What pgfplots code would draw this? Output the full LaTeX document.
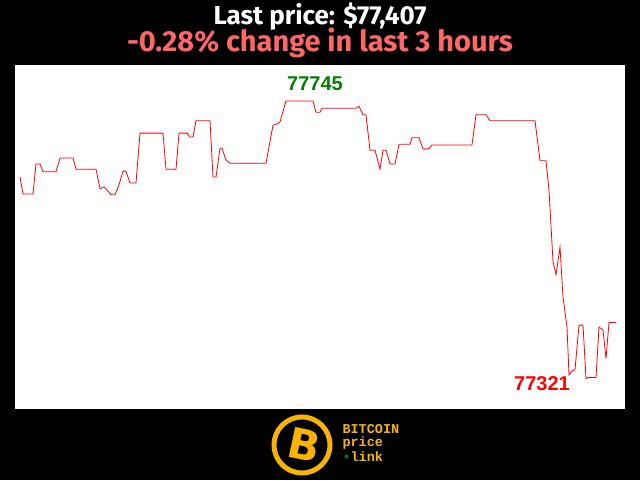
\documentclass[border=0pt]{standalone}
\usepackage{pgfplots}
\pgfplotsset{compat=1.18}
\usepackage{fontspec}
\setmainfont{Fira Sans}
\newfontfamily\arialfont{Liberation Sans}
\newfontfamily\monofont{Liberation Mono}
\newfontfamily\dejavu{DejaVu Sans}
\definecolor{titlered}{RGB}{255,102,102}
\definecolor{gold}{RGB}{247,181,0}
\definecolor{labgreen}{RGB}{0,128,0}
\begin{document}
\begin{tikzpicture}[x=1pt,y=1pt]
\fill[black] (0,0) rectangle (640,480);
\begin{axis}[
  at={(15pt,71pt)}, anchor=south west,
  width=610pt, height=344pt, scale only axis,
  xmin=15, xmax=625, ymin=77275, ymax=77800,
  axis background/.style={fill=white},
  axis line style={draw=none},
  ticks=none,
  clip=false,
]
\addplot[red, line width=0.8pt, mark=none] coordinates {
(20,77629) (23,77603) (33,77603) (36,77649) (40,77649) (43,77637) (56,77637)
(60,77658) (73,77658) (76,77641) (96,77641) (100,77611) (104,77614) (106,77611)
(111,77602) (115,77602) (119,77617) (123,77638) (126,77638) (130,77620) (136,77620)
(140,77696) (163,77696) (166,77641) (176,77641) (179,77696) (187,77696) (190,77690)
(193,77690) (196,77715) (210,77715) (213,77629) (216,77629) (220,77673) (222,77673)
(226,77655) (230,77650) (266,77650) (273,77708) (277,77710) (280,77713) (286,77745)
(313,77745) (316,77728) (320,77728) (322,77734) (356,77734) (359,77737) (363,77724)
(366,77724) (370,77670) (375,77670) (380,77641) (383,77670) (386,77670) (390,77649)
(395,77649) (399,77679) (410,77679) (412,77689) (419,77689) (423,77672) (429,77672)
(432,77678) (472,77678) (476,77724) (486,77724) (490,77715) (535,77715) (540,77654)
(546,77654) (549,77609) (553,77500) (556,77480) (560,77522) (563,77446) (567,77400)
(569,77327) (572,77333) (575,77335) (579,77403) (583,77403) (586,77321) (588,77323)
(596,77323) (599,77400) (603,77396) (606,77352) (609,77407) (616,77407)
};
\node[text=labgreen, font=\arialfont\bfseries\fontsize{20}{20}\selectfont] at (axis cs:315,77771) {77745};
\node[text=red, font=\arialfont\bfseries\fontsize{20}{20}\selectfont] at (axis cs:542,77313) {77321};
\end{axis}
\node[text=white, font=\bfseries\fontsize{26}{26}\selectfont] at (320,463) {Last price: \$77,407};
\node[text=titlered, font=\bfseries\fontsize{29}{29}\selectfont] at (320,437) {-0.28\% change in last 3 hours};
% logo
\draw[gold, line width=5pt, fill=black] (302,35) circle (28);
\node[text=gold, rotate=-12, font=\dejavu\bfseries\fontsize{42}{42}\selectfont] at (304,35) {B};
\node[text=gold, font=\monofont\bfseries\fontsize{13.5}{13.5}\selectfont, anchor=west] at (339,51) {BITCOIN};
\node[text=gold, font=\monofont\bfseries\fontsize{13.5}{13.5}\selectfont, anchor=west] at (339,37) {price};
\node[text=gold, font=\monofont\bfseries\fontsize{13.5}{13.5}\selectfont, anchor=west] at (339,23) {\textcolor{labgreen}{•}link};
\pgfresetboundingbox
\path (0,0) rectangle (640,480);
\end{tikzpicture}
\end{document}
